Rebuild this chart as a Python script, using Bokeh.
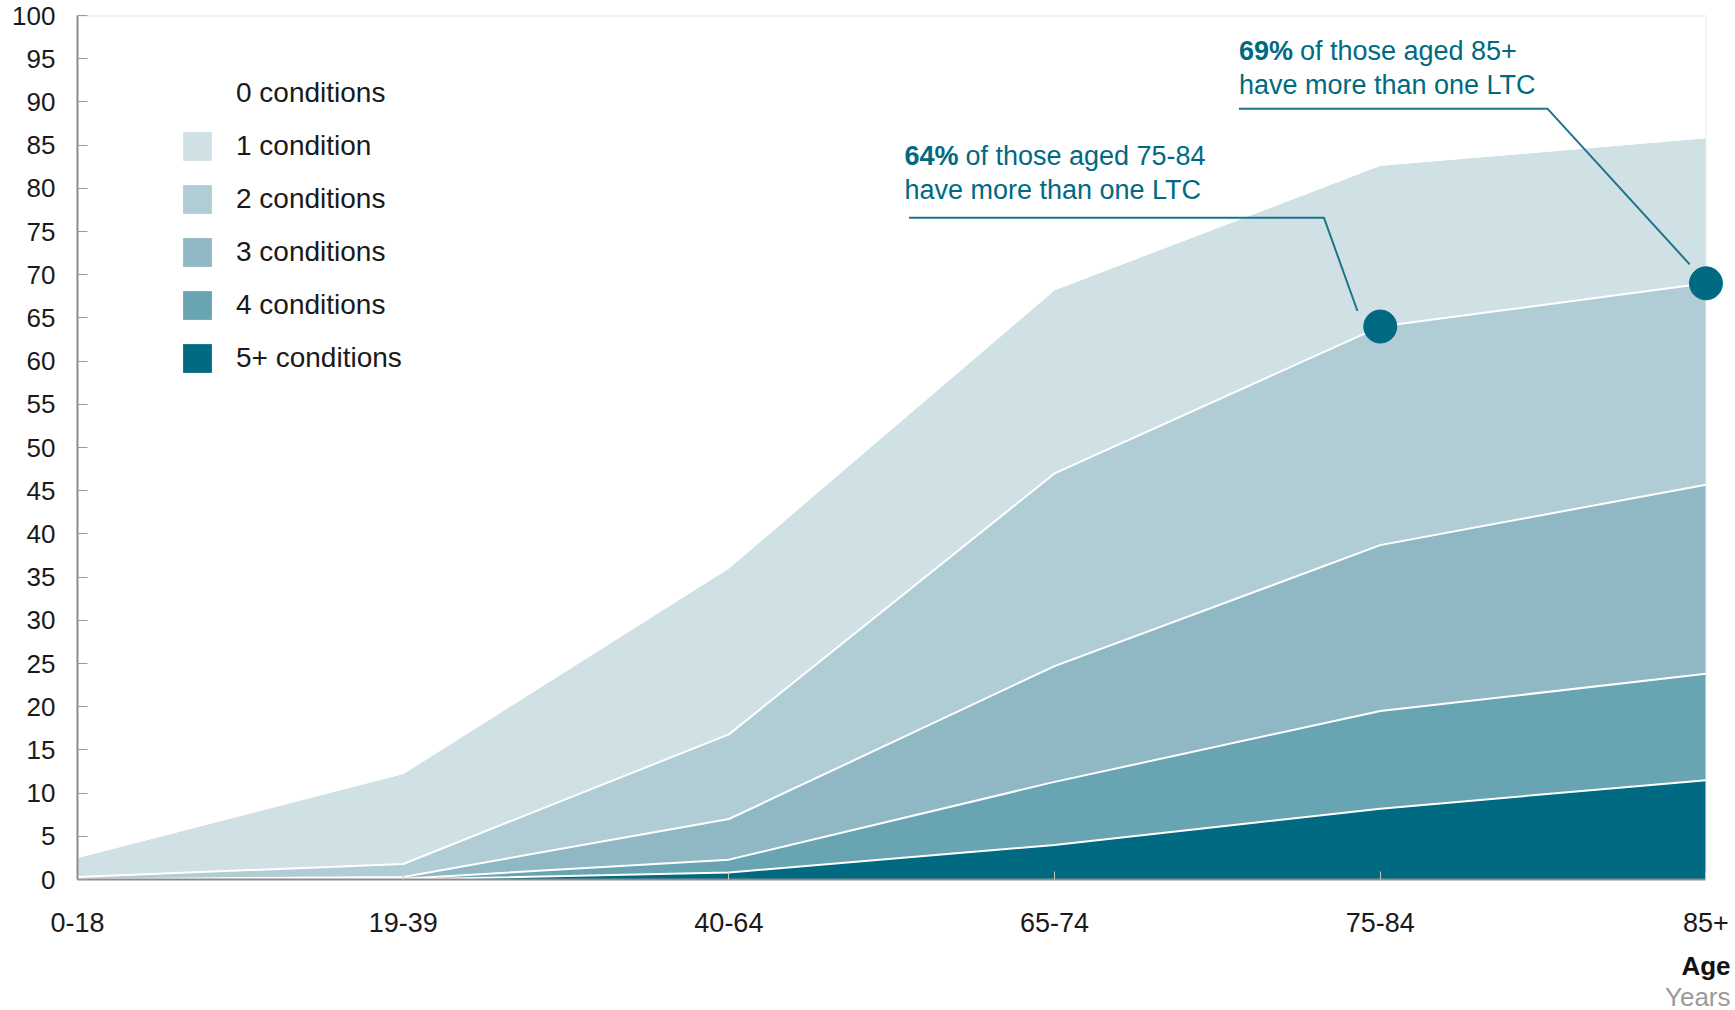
from bokeh.plotting import figure
from bokeh.models import Range1d, FixedTicker, Label, Legend, LegendItem, Title
from bokeh.embed import file_html
from bokeh.resources import INLINE
import numpy as np

# Share of people (%) in each age band by number of long-term conditions (LTCs)
age_groups = ["0-18", "19-39", "40-64", "65-74", "75-84", "85+"]
cond_labels = ["0 conditions", "1 condition", "2 conditions",
               "3 conditions", "4 conditions", "5+ conditions"]
pct_5plus = [0.0, 0.0, 0.8, 4.0, 8.2, 11.5]
pct_4 = [0.0, 0.1, 1.5, 7.3, 11.3, 12.3]
pct_3 = [0.0, 0.2, 4.7, 13.4, 19.2, 21.9]
pct_2 = [0.3, 1.5, 9.8, 22.3, 25.3, 23.3]
pct_1 = [2.2, 10.4, 19.2, 21.2, 18.6, 16.8]
pct_0 = [97.5, 87.8, 64.0, 31.8, 17.4, 14.2]
y_ticks = list(range(0, 101, 5))

# Age bands picked out with a callout
callout_groups = ["75-84", "85+"]

colors = ["#ffffff", "#d0e1e6", "#b0cdd6", "#8fb8c4", "#68a4b2", "#006a82"]
teal = "#006a82"
FONT = "Liberation Sans"

x = np.arange(len(age_groups))
x_last = x[-1]
layers_bottom_up = [pct_5plus, pct_4, pct_3, pct_2, pct_1, pct_0]
colors_bottom_up = colors[::-1]

# a little room past the last band so the end marker is not cut off
x_pad = 0.06
p = figure(frame_width=1648, frame_height=864,
           min_border_left=77, min_border_right=10,
           min_border_top=15, min_border_bottom=131,
           x_range=Range1d(0, x_last + x_pad), y_range=Range1d(0, 100),
           output_backend="svg", toolbar_location=None,
           background_fill_color="white", border_fill_color="white")
p.outline_line_color = None
p.xgrid.visible = False
p.ygrid.visible = False

# stacked areas
base = np.zeros(len(x))
area_renderers = []
tops = []
for vals, col in zip(layers_bottom_up, colors_bottom_up):
    top = base + np.array(vals)
    r = p.varea(x=x, y1=base, y2=top, fill_color=col)
    area_renderers.append(r)
    tops.append(top)
    base = top

# white separators between coloured bands
for top in tops[:4]:
    p.line(x, top, line_color="white", line_width=2)

# faint frame on the top and right of the plotting area
p.line([0, x_last], [100, 100], line_color="#e6e6e6", line_width=2)
p.line([x_last, x_last], [0, 100], line_color="#ececec", line_width=1)

# axes
p.yaxis.ticker = FixedTicker(ticks=y_ticks)
p.xaxis.ticker = FixedTicker(ticks=list(x))
p.xaxis.bounds = (0, int(x_last))
p.xaxis.major_label_overrides = {int(i): g for i, g in zip(x, age_groups)}
for ax in (p.xaxis[0], p.yaxis[0]):
    ax.axis_line_color = "#8c8c8c"
    ax.axis_line_width = 2
    ax.major_tick_line_color = "#9a9a9a"
    ax.major_tick_out = 0
    ax.minor_tick_line_color = None
    ax.major_label_text_font = FONT
    ax.major_label_text_color = "#1a1a1a"
p.yaxis.major_tick_in = 10
p.yaxis.major_label_text_font_size = "26px"
p.yaxis.major_label_standoff = 22
p.xaxis.major_tick_in = 8
p.xaxis.major_tick_line_color = "#c8c8c8"
p.xaxis.major_label_text_font_size = "27px"
p.xaxis.major_label_standoff = 33

# legend (top to bottom: 0 conditions ... 5+ conditions)
zero_box = p.patch(x=[], y=[], fill_color="white", line_color="#e2e2e2", line_width=1)
legend_renderers = [[zero_box]] + [[r] for r in area_renderers[::-1][1:]]
items = [LegendItem(label=lab, renderers=rs) for lab, rs in zip(cond_labels, legend_renderers)]
legend = Legend(items=items, location=(102, 503), orientation="vertical",
                glyph_width=36, glyph_height=36, label_height=31, spacing=17,
                label_standoff=21, padding=0, margin=0,
                label_text_font=FONT, label_text_font_size="28px",
                label_text_color="#1a1a1a",
                border_line_color=None, background_fill_alpha=0)
p.add_layout(legend)

# callouts
two_plus = tops[3]
callouts = [
    # (label x, first-line y, leader x's, leader y's)
    dict(tx=2.539, ty=83.7, lx=[2.553, 3.827, 3.93], ly=[76.6, 76.6, 65.8]),
    dict(tx=3.566, ty=95.9, lx=[3.566, 4.514, 4.95], ly=[89.2, 89.2, 71.2]),
]
for grp, c in zip(callout_groups, callouts):
    i = age_groups.index(grp)
    val = two_plus[i]
    p.line(c["lx"], c["ly"], line_color="#1d7489", line_width=2)
    p.scatter([x[i]], [val], size=33, fill_color=teal, line_color=teal)
    pct_txt = f"{val:.0f}%"
    p.add_layout(Label(x=c["tx"], y=c["ty"], text=pct_txt, text_font=FONT,
                       text_font_size="27px", text_font_style="bold",
                       text_color=teal, text_baseline="middle"))
    p.add_layout(Label(x=c["tx"], y=c["ty"], x_offset=61, text=f"of those aged {grp}",
                       text_font=FONT, text_font_size="27px",
                       text_color=teal, text_baseline="middle"))
    p.add_layout(Label(x=c["tx"], y=c["ty"], y_offset=-34, text="have more than one LTC",
                       text_font=FONT, text_font_size="27px",
                       text_color=teal, text_baseline="middle"))

# axis caption at lower right
p.add_layout(Title(text="Age", align="right", offset=-5, standoff=29,
                   text_font=FONT, text_font_size="26px", text_font_style="bold",
                   text_color="#111111"), "below")
p.add_layout(Title(text="Years", align="right", offset=-5, standoff=-32,
                   text_font=FONT, text_font_size="26px", text_font_style="normal",
                   text_color="#9a9a9a"), "below")

open("out.html", "w").write(file_html(p, INLINE))
